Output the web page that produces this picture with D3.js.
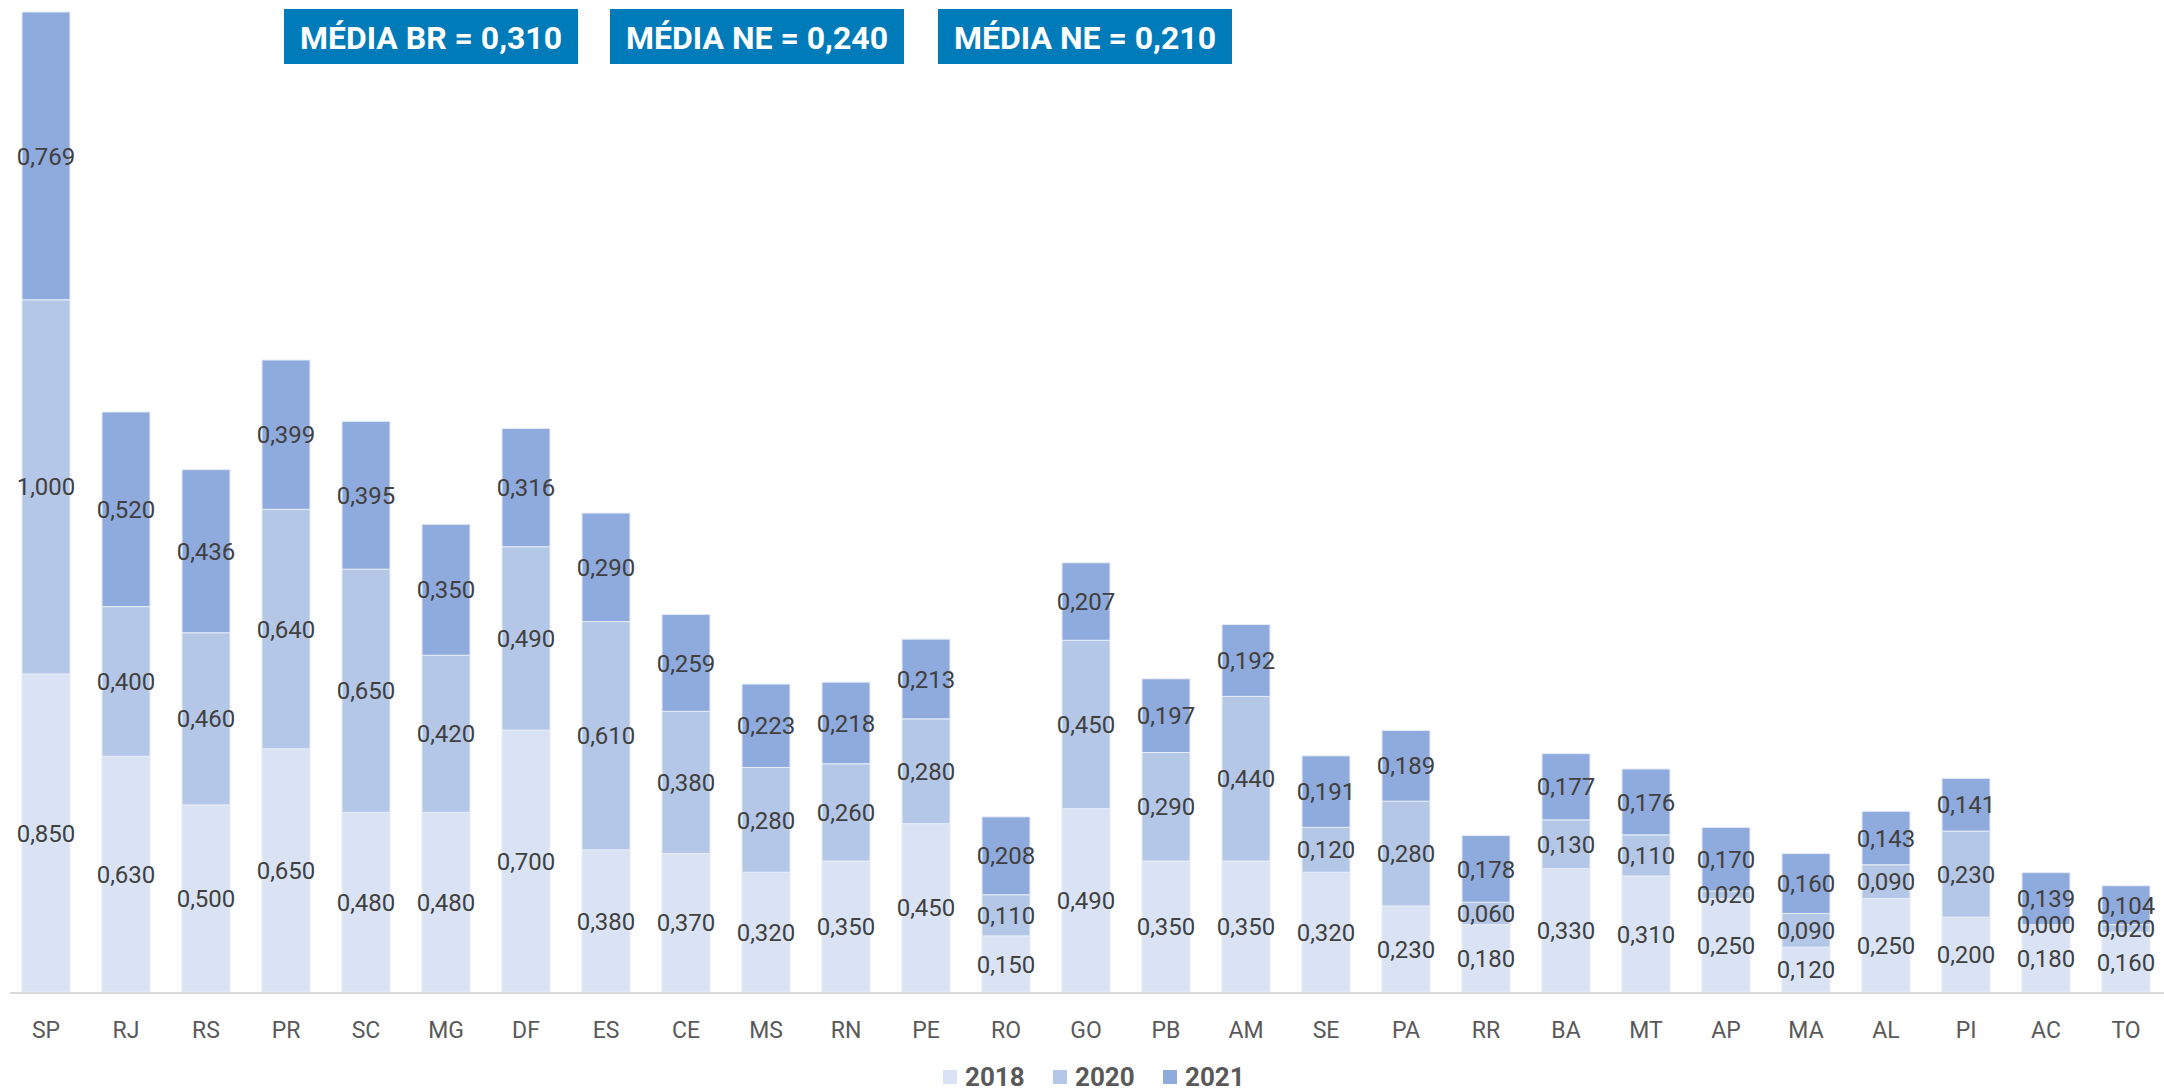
<!DOCTYPE html>
<html lang="pt">
<head>
    <meta charset="UTF-8">
    <title>Média por UF</title>
    <style>
        body { margin: 0; background: #fff; }
        svg { display: block; font-family: Roboto, "Noto Sans", sans-serif; }
    </style>
    <script src="https://d3js.org/d3.v7.min.js"></script>
</head>
<body>
    <script>
        const WIDTH = 2164;
        const HEIGHT = 1091;

        // data
        const states = ["SP", "RJ", "RS", "PR", "SC", "MG", "DF", "ES", "CE", "MS", "RN", "PE", "RO", "GO",
            "PB", "AM", "SE", "PA", "RR", "BA", "MT", "AP", "MA", "AL", "PI", "AC", "TO"];
        const v2018 = [0.850, 0.630, 0.500, 0.650, 0.480, 0.480, 0.700, 0.380, 0.370, 0.320, 0.350, 0.450, 0.150, 0.490,
            0.350, 0.350, 0.320, 0.230, 0.180, 0.330, 0.310, 0.250, 0.120, 0.250, 0.200, 0.180, 0.160];
        const v2020 = [1.000, 0.400, 0.460, 0.640, 0.650, 0.420, 0.490, 0.610, 0.380, 0.280, 0.260, 0.280, 0.110, 0.450,
            0.290, 0.440, 0.120, 0.280, 0.060, 0.130, 0.110, 0.020, 0.090, 0.090, 0.230, 0.000, 0.020];
        const v2021 = [0.769, 0.520, 0.436, 0.399, 0.395, 0.350, 0.316, 0.290, 0.259, 0.223, 0.218, 0.213, 0.208, 0.207,
            0.197, 0.192, 0.191, 0.189, 0.178, 0.177, 0.176, 0.170, 0.160, 0.143, 0.141, 0.139, 0.104];
        const years = ["2018", "2020", "2021"];
        const colors = ["#dae3f3", "#b4c7e7", "#8faadc"];
        const badges = ["MÉDIA BR = 0,310", "MÉDIA NE = 0,240", "MÉDIA NE = 0,210"];

        const rows = states.map((s, i) => ({ uf: s, "2018": v2018[i], "2020": v2020[i], "2021": v2021[i] }));
        const series = d3.stack().keys(years)(rows);

        const x = d3.scaleBand().domain(states).range([6, 2166]).paddingInner(0.4).paddingOuter(0.2);
        const y = d3.scaleLinear().domain([0, 2.619]).range([992, 12]);
        const fmt = v => d3.format(".3f")(v).replace(".", ",");

        const svg = d3.select("body").append("svg")
            .attr("width", WIDTH)
            .attr("height", HEIGHT);

        // stacked bars
        const layer = svg.selectAll("g.layer")
            .data(series)
            .enter()
            .append("g")
            .attr("fill", (d, i) => colors[i]);

        layer.selectAll("rect")
            .data(d => d)
            .enter()
            .append("rect")
            .attr("x", d => x(d.data.uf))
            .attr("y", d => y(d[1]))
            .attr("width", x.bandwidth())
            .attr("height", d => y(d[0]) - y(d[1]))
            .attr("stroke", "#e6ecf7")
            .attr("stroke-width", 1);

        // value labels in the middle of each segment
        series.forEach(s => {
            svg.append("g").selectAll("text")
                .data(s)
                .enter()
                .append("text")
                .attr("x", d => x(d.data.uf) + x.bandwidth() / 2)
                .attr("y", d => y((d[0] + d[1]) / 2))
                .attr("dy", "0.36em")
                .attr("text-anchor", "middle")
                .attr("font-size", "24px")
                .attr("fill", "#404040")
                .text(d => fmt(d[1] - d[0]));
        });

        // baseline
        svg.append("line")
            .attr("x1", 10).attr("x2", WIDTH)
            .attr("y1", y(0) + 1).attr("y2", y(0) + 1)
            .attr("stroke", "#d9d9d9")
            .attr("stroke-width", 2);

        // category axis
        const xAxis = svg.append("g")
            .attr("transform", `translate(0,${y(0)})`)
            .call(d3.axisBottom(x).tickSize(0).tickPadding(30));
        xAxis.select(".domain").remove();
        xAxis.selectAll("text")
            .attr("font-family", "Roboto, sans-serif")
            .attr("font-size", "23px")
            .attr("fill", "#595959");

        // legend
        const legendX = [943, 1053, 1163];
        const legend = svg.append("g").selectAll("g")
            .data(years)
            .enter()
            .append("g")
            .attr("transform", (d, i) => `translate(${legendX[i]},1077)`);
        legend.append("rect")
            .attr("x", 0).attr("y", -7)
            .attr("width", 14).attr("height", 14)
            .attr("fill", (d, i) => colors[i]);
        legend.append("text")
            .attr("x", 22)
            .attr("dy", "0.36em")
            .attr("font-size", "26px")
            .attr("font-weight", "bold")
            .attr("fill", "#595959")
            .text(d => d);

        // average badges
        const badgeX = [284, 610, 938];
        const badge = svg.append("g").selectAll("g")
            .data(badges)
            .enter()
            .append("g")
            .attr("transform", (d, i) => `translate(${badgeX[i]},9)`);
        badge.append("rect")
            .attr("width", 294)
            .attr("height", 55)
            .attr("fill", "#007bba");
        badge.append("text")
            .attr("x", 147)
            .attr("y", 28)
            .attr("dy", "0.36em")
            .attr("text-anchor", "middle")
            .attr("font-size", "32px")
            .attr("font-weight", "bold")
            .attr("fill", "#fff")
            .attr("textLength", 262)
            .attr("lengthAdjust", "spacingAndGlyphs")
            .text(d => d);
    </script>
</body>
</html>
